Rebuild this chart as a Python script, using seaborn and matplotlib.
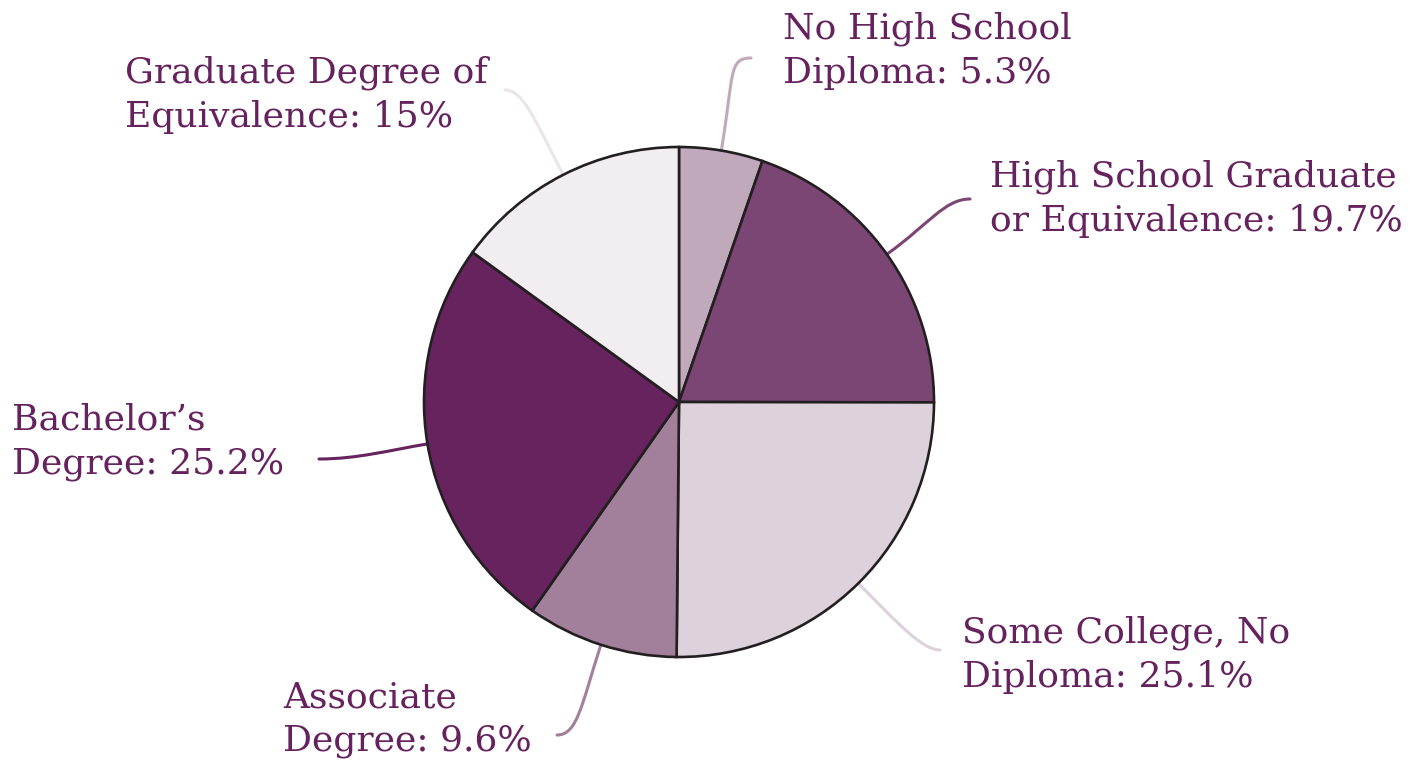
import numpy as np
import matplotlib
matplotlib.use("Agg")
import matplotlib.pyplot as plt
import seaborn as sns
from matplotlib.path import Path
from matplotlib.patches import PathPatch

categories = ["No High School\nDiploma", "High School Graduate\nor Equivalence",
              "Some College, No\nDiploma", "Associate\nDegree",
              "Bachelor\u2019s\nDegree", "Graduate Degree of\nEquivalence"]
values = [5.3, 19.7, 25.1, 9.6, 25.2, 15]
value_labels = ["5.3%", "19.7%", "25.1%", "9.6%", "25.2%", "15%"]
colors = ["#c1a9bc", "#7b4674", "#ddd1dc", "#a27f9b", "#67235e", "#f2edf1"]
line_colors = ["#c1a9bc", "#7b4674", "#ddd1dc", "#a27f9b", "#67235e", "#ebe4e9"]

sns.set_theme(style="white")
plt.rcParams["font.family"] = ["DejaVu Serif", "DejaVu Sans"]

W, H = 1413, 763
fig = plt.figure(figsize=(W / 100, H / 100), dpi=100)
ax = fig.add_axes([0, 0, 1, 1])
cx, cy, R = 679, 402, 255  # pixel layout of pie


def px(x, y):
    return ((x - cx) / R, (cy - y) / R)


wedges, _ = ax.pie(values, colors=colors, startangle=90, counterclock=False,
                   radius=1.0, center=(0, 0),
                   wedgeprops=dict(edgecolor="#231f20", linewidth=1.9))
ax.set_xlim(-cx / R, (W - cx) / R)
ax.set_ylim(-(H - cy) / R, cy / R)
ax.set_aspect("equal")
ax.axis("off")

text_color = "#66225e"
# label layout: (left x px, top y px), leader end px, end direction, radial ext
label_pos = [(783, 12), (990, 160), (962, 616), (283, 680), (12, 403), (125, 56)]
leader_end = [(751, 58), (970, 199), (940, 650), (557, 735), (319, 459), (505, 90)]
end_dir = [1, 1, 1, -1, -1, -1]
radial_ext = [0.30, 0.20, 0.22, 0.25, 0.15, 0.25]
hook = [0.09, 0.10, 0.07, 0.08, 0.15, 0.07]

for w, lab, vl, lp, le, d, lc, re, hk in zip(wedges, categories, value_labels,
                                             label_pos, leader_end, end_dir,
                                             line_colors, radial_ext, hook):
    ang = np.deg2rad((w.theta1 + w.theta2) / 2)
    sx, sy = np.cos(ang), np.sin(ang)
    ex, ey = px(*le)
    c1 = (sx * (1 + re), sy * (1 + re))
    c2 = (ex - d * hk, ey)
    path = Path([(sx, sy), c1, c2, (ex, ey)],
                [Path.MOVETO, Path.CURVE4, Path.CURVE4, Path.CURVE4])
    ax.add_patch(PathPatch(path, facecolor="none", edgecolor=lc, lw=2.2,
                           zorder=0, capstyle="round"))
    tx, ty = px(*lp)
    ax.text(tx, ty, f"{lab}: {vl}", ha="left", va="top", color=text_color,
            fontsize=26, linespacing=1.36)

fig.savefig("out.png", dpi=100, facecolor="white")
